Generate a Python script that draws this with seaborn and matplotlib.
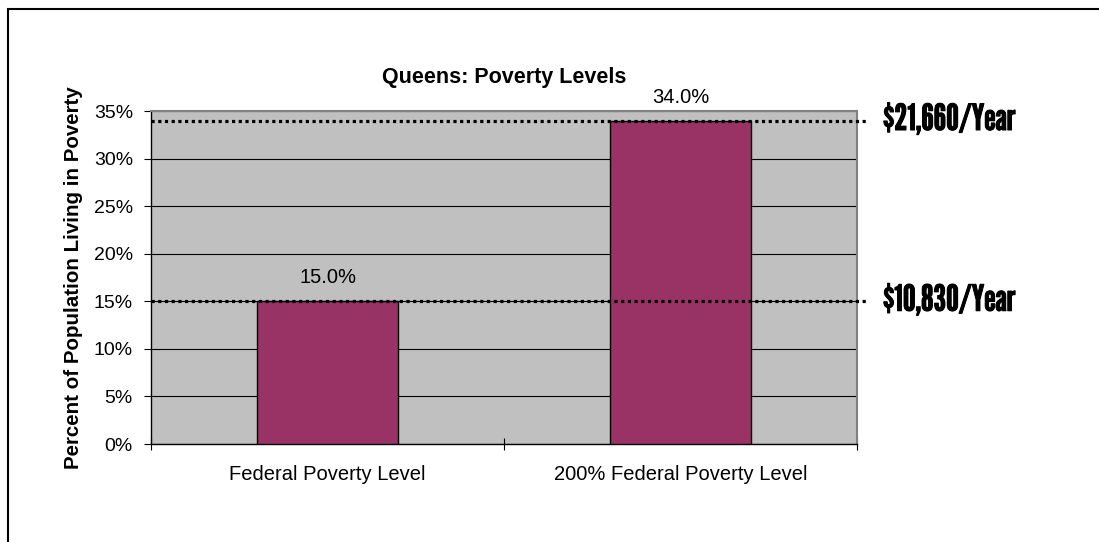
import matplotlib
matplotlib.use("Agg")
import matplotlib.pyplot as plt
import matplotlib.patheffects as pe
from matplotlib.patches import Rectangle
from matplotlib.ticker import FuncFormatter, MultipleLocator, FixedLocator
import seaborn as sns
import pandas as pd

# Chart data
categories = ["Federal Poverty Level", "200% Federal Poverty Level"]
shares = [0.15, 0.34]
income_labels = ["$10,830/Year", "$21,660/Year"]
title = "Queens: Poverty Levels"
y_label = "Percent of Population Living in Poverty"

sns.set_theme(style="white")
plt.rcParams["font.family"] = ["Liberation Sans", "DejaVu Sans"]

df = pd.DataFrame({"level": categories, "share": shares})

fig = plt.figure(figsize=(10.99, 5.42), dpi=100)
ax = fig.add_axes([0.1374, 0.1808, 0.6424, 0.6144])
ax.set_facecolor("#C0C0C0")

sns.barplot(data=df, x="level", y="share", color="#993366", saturation=1,
            width=0.4, edgecolor="black", linewidth=1.0, ax=ax, zorder=3)

ax.set_xlim(-0.5, 1.5)
ax.set_ylim(0, 0.35)
ax.yaxis.set_major_locator(MultipleLocator(0.05))
ax.yaxis.set_major_formatter(FuncFormatter(lambda v, _: f"{v * 100:.0f}%"))
ax.grid(axis="y", color="black", linewidth=0.8, zorder=1)
ax.set_axisbelow(True)

# Category boundary ticks on the x axis
ax.xaxis.set_minor_locator(FixedLocator([-0.5, 0.5, 1.5]))
ax.tick_params(axis="x", which="major", length=0, pad=15, labelsize=14.5, colors="black")
ax.tick_params(axis="x", which="minor", direction="inout", length=9, width=0.8,
               color="black", bottom=True)
ax.tick_params(axis="y", which="major", direction="out", length=5, width=0.8,
               pad=8, labelsize=14, colors="black", left=True)

for side in ["left", "bottom"]:
    ax.spines[side].set_color("black")
    ax.spines[side].set_linewidth(1.0)
for side in ["top", "right"]:
    ax.spines[side].set_color("#808080")
    ax.spines[side].set_linewidth(1.5)

ax.set_xlabel("")
ax.set_ylabel(y_label, fontsize=14.8, fontweight="bold", color="black", labelpad=8)
ax.set_title(title, fontsize=15.5, fontweight="bold", color="black", pad=20)

# Value labels above the bars
for container in ax.containers:
    ax.bar_label(container, labels=[f"{v * 100:.1f}%" for v in shares],
                 padding=10, fontsize=14.5, color="black")

# Income thresholds as dotted reference lines at each bar height
for value, text in zip(shares, income_labels):
    ax.plot([-0.5, 1.527], [value, value], color="black", linewidth=2.3,
            linestyle=(0, (1, 1.1)), dash_capstyle="butt", clip_on=False, zorder=4)
    ax.text(1.037, value, text, transform=ax.get_yaxis_transform(),
            ha="left", va="center", fontsize=26, fontweight="bold",
            family=["League Gothic", "Anton", "DejaVu Sans"], color="black",
            path_effects=[pe.withStroke(linewidth=0.7, foreground="black")])

# Outer chart frame
fig.patches.append(Rectangle((8 / 1099, -0.2), 1.5, 0.2 + 1 - 9 / 542,
                             transform=fig.transFigure, fill=False,
                             edgecolor="black", linewidth=1.5))

fig.savefig("out.png", dpi=100)
